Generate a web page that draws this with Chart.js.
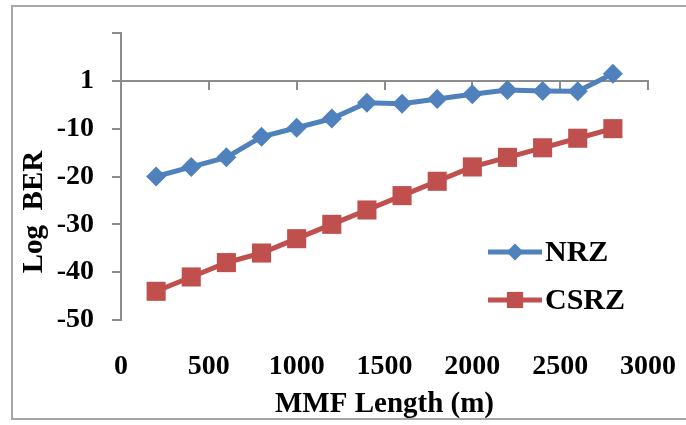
<!DOCTYPE html>
<html>
<head>
<meta charset="utf-8">
<script src="https://cdn.jsdelivr.net/npm/chart.js@4.4.1/dist/chart.umd.min.js"></script>
<style>
  body { margin: 0; background: #fff; }
  .report { position: relative; width: 686px; height: 425px; overflow: hidden; }
  .report__frame { position: absolute; left: 11px; top: 5px; width: 720px; height: 411px; border: 2px solid #a6a6a6; }
  .report__chart { position: absolute; left: 0; top: 0; }
</style>
</head>
<body>
<div class="report">
  <div class="report__frame"></div>
  <canvas class="report__chart" id="chart" width="686" height="425"></canvas>
</div>
<script>
const lengths = [200, 400, 600, 800, 1000, 1200, 1400, 1600, 1800, 2000, 2200, 2400, 2600, 2800];
const nrzBer = [-20, -18, -16, -11.7, -9.8, -7.9, -4.6, -4.8, -3.8, -2.8, -1.9, -2.1, -2.2, 1.5];
const csrzBer = [-44, -41, -38, -36, -33, -30, -27, -24, -21, -18, -16, -14, -12, -10];
const seriesNames = ["NRZ", "CSRZ"];
const yTickValues = [-50, -40, -30, -20, -10, 0, 10];
const yTickLabels = ["-50", "-40", "-30", "-20", "-10", "1", ""];

const axisGray = "#8c8c8c";
const serif = "'Liberation Serif', 'Times New Roman', serif";
const tickFont = { family: serif, size: 28, weight: "bold" };

const toPoints = (values) => values.map((y, i) => ({ x: lengths[i], y }));

// legend + rotated y title drawn by hand, Excel style
const sideLegend = {
  id: "sideLegend",
  afterDraw(chart) {
    const { ctx } = chart;
    chart.data.datasets.forEach((ds, i) => {
      const y = 252 + i * 48;
      ctx.save();
      ctx.strokeStyle = ds.borderColor;
      ctx.lineWidth = ds.borderWidth;
      ctx.beginPath();
      ctx.moveTo(488, y);
      ctx.lineTo(542, y);
      ctx.stroke();
      ctx.fillStyle = ds.backgroundColor;
      Chart.helpers.drawPoint(
        ctx,
        { pointStyle: ds.pointStyle, radius: ds.pointRadius * 0.85, borderWidth: 0, rotation: 0 },
        515,
        y,
      );
      ctx.fillStyle = "#000";
      ctx.font = `bold 30px ${serif}`;
      ctx.textAlign = "left";
      ctx.textBaseline = "middle";
      ctx.fillText(ds.label, 545, y + 1);
      ctx.restore();
    });

    ctx.save();
    ctx.translate(35, 212);
    ctx.rotate(-Math.PI / 2);
    ctx.fillStyle = "#000";
    ctx.font = `bold 29px ${serif}`;
    ctx.textAlign = "center";
    ctx.textBaseline = "middle";
    ctx.fillText("Log  BER", 0, 0);
    ctx.restore();
  },
};

const ctx = document.getElementById("chart").getContext("2d");

new Chart(ctx, {
  type: "line",
  data: {
    datasets: [
      {
        label: seriesNames[0],
        data: toPoints(nrzBer),
        borderColor: "#4f81bd",
        backgroundColor: "#4f81bd",
        borderWidth: 5,
        pointStyle: "rectRot",
        pointRadius: 10,
        pointBorderWidth: 0,
      },
      {
        label: seriesNames[1],
        data: toPoints(csrzBer),
        borderColor: "#c0504d",
        backgroundColor: "#c0504d",
        borderWidth: 5,
        pointStyle: "rect",
        pointRadius: 13.5,
        pointBorderWidth: 0,
      },
    ],
  },
  options: {
    responsive: false,
    animation: false,
    devicePixelRatio: 1,
    layout: { padding: { top: 33, right: 38, left: 0, bottom: 0 } },
    plugins: {
      legend: { display: false },
      tooltip: { enabled: false },
    },
    scales: {
      x: {
        type: "linear",
        position: { y: 0 },
        min: 0,
        max: 3000,
        ticks: { stepSize: 500, display: false },
        grid: { drawOnChartArea: false, tickLength: 8, color: axisGray, lineWidth: 2 },
        border: { color: axisGray, width: 2 },
        afterFit: (scale) => {
          scale.paddingLeft = 0;
          scale.paddingRight = 0;
        },
      },
      xBottom: {
        type: "linear",
        position: "bottom",
        min: 0,
        max: 3000,
        ticks: {
          stepSize: 500,
          padding: 22,
          maxRotation: 0,
          color: "#000",
          font: tickFont,
          callback: (value) => String(value),
        },
        grid: { display: false },
        border: { display: false },
        title: {
          display: true,
          text: "MMF Length (m)",
          color: "#000",
          font: { family: serif, size: 29, weight: "bold" },
          padding: { top: 0, bottom: 3 },
        },
        afterFit: (scale) => {
          scale.height = 105;
          scale.paddingLeft = 0;
          scale.paddingRight = 0;
        },
      },
      y: {
        min: -50,
        max: 10,
        afterBuildTicks: (scale) => {
          scale.ticks = yTickValues.map((value) => ({ value }));
        },
        ticks: {
          padding: 18,
          color: "#000",
          font: tickFont,
          callback: (value, i) => yTickLabels[i],
        },
        grid: { drawOnChartArea: false, tickLength: 9, color: axisGray, lineWidth: 2 },
        border: { color: axisGray, width: 2 },
        afterFit: (scale) => {
          scale.width = 121;
          scale.paddingTop = 0;
          scale.paddingBottom = 0;
        },
      },
    },
  },
  plugins: [sideLegend],
});
</script>
</body>
</html>
